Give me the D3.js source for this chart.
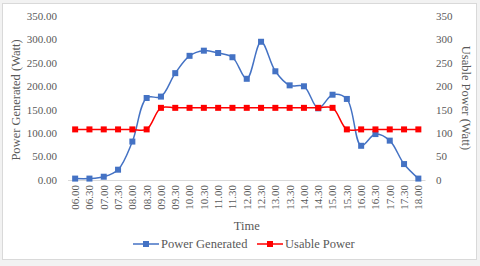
<!DOCTYPE html>
<html>
<head>
<meta charset="utf-8">
<script src="https://cdn.jsdelivr.net/npm/d3@7"></script>
<style>
  body { margin: 0; background: #fff; }
  text { font-family: "Liberation Serif", "Times New Roman", serif; fill: #595959; }
</style>
</head>
<body>
<script>
const width = 480;
const height = 266;

const times = ["06.00","06.30","07.00","07.30","08.00","08.30","09.00","09.30","10.00","10.30","11.00","11.30",
  "12.00","12.30","13.00","13.30","14.00","14.30","15.00","15.30","16.00","16.30","17.00","17.30","18.00"];
const powerGenerated = [3, 3, 7, 22, 82, 175, 178, 228, 265, 276, 271, 262,
  216, 295, 232, 202, 200, 153, 182, 173, 73, 98, 84, 34, 3];
const usablePower = [108, 108, 108, 108, 108, 108, 154, 154, 154, 154, 154, 154,
  154, 154, 154, 154, 154, 154, 154, 108, 108, 108, 108, 108, 108];
const leftTicks = [0, 50, 100, 150, 200, 250, 300, 350];
const rightTicks = [0, 50, 100, 150, 200, 250, 300, 350];

const svg = d3.select("body").append("svg")
  .attr("width", width)
  .attr("height", height);

// chart frame
svg.append("rect").attr("width", width).attr("height", height).attr("fill", "#f2f2f2");
svg.append("rect")
  .attr("x", 2.5).attr("y", 3.5)
  .attr("width", 474).attr("height", 256)
  .attr("fill", "#fff").attr("stroke", "#d9d9d9");

const plot = { left: 68, right: 425.5, top: 16, bottom: 180 };

const x = d3.scaleBand().domain(times).range([plot.left, plot.right]);
const y = d3.scaleLinear().domain([0, 350]).range([plot.bottom, plot.top]);
const y2 = d3.scaleLinear().domain([0, 350]).range([plot.bottom, plot.top]);
const cx = t => x(t) + x.bandwidth() / 2;

// left axis labels
svg.append("g").selectAll("text")
  .data(leftTicks)
  .join("text")
    .attr("x", 57)
    .attr("y", d => y(d))
    .attr("dy", "0.35em")
    .attr("text-anchor", "end")
    .attr("font-size", 11)
    .text(d => d.toFixed(2));

// right axis labels
svg.append("g").selectAll("text")
  .data(rightTicks)
  .join("text")
    .attr("x", 436)
    .attr("y", d => y2(d))
    .attr("dy", "0.35em")
    .attr("text-anchor", "start")
    .attr("font-size", 11)
    .text(d => d);

// x axis line
svg.append("line")
  .attr("x1", plot.left).attr("x2", plot.right)
  .attr("y1", y(0) + 0.5).attr("y2", y(0) + 0.5)
  .attr("stroke", "#d9d9d9");

// x tick labels (rotated)
svg.append("g").selectAll("text")
  .data(times)
  .join("text")
    .attr("transform", d => `translate(${cx(d)},185) rotate(-90)`)
    .attr("dy", "0.35em")
    .attr("text-anchor", "end")
    .attr("font-size", 11)
    .text(d => d);

// axis titles
svg.append("text")
  .attr("transform", `translate(20,${(plot.top + plot.bottom) / 2 + 2}) rotate(-90)`)
  .attr("text-anchor", "middle")
  .attr("font-size", 12.5)
  .text("Power Generated (Watt)");

svg.append("text")
  .attr("transform", `translate(462,${(plot.top + plot.bottom) / 2}) rotate(90)`)
  .attr("text-anchor", "middle")
  .attr("font-size", 12.5)
  .text("Usable Power (Watt)");

svg.append("text")
  .attr("x", (plot.left + plot.right) / 2)
  .attr("y", 230)
  .attr("text-anchor", "middle")
  .attr("font-size", 12.5)
  .text("Time");

const line = d3.line().curve(d3.curveCatmullRom.alpha(0.5));

const series = [
  { name: "Power Generated", values: powerGenerated, color: "#4472C4", scale: y },
  { name: "Usable Power", values: usablePower, color: "#FF0000", scale: y2 }
];

for (const s of series) {
  const pts = times.map((t, i) => [cx(t), s.scale(s.values[i])]);
  svg.append("path")
    .attr("d", line(pts))
    .attr("fill", "none")
    .attr("stroke", s.color)
    .attr("stroke-width", 1.5);
  svg.append("g").selectAll("rect")
    .data(pts)
    .join("rect")
      .attr("x", d => d[0] - 3)
      .attr("y", d => d[1] - 3)
      .attr("width", 6).attr("height", 6)
      .attr("fill", s.color);
}

// legend
const legendItems = [
  { name: series[0].name, color: series[0].color, x: 133 },
  { name: series[1].name, color: series[1].color, x: 257 }
];
const lg = svg.append("g").selectAll("g")
  .data(legendItems)
  .join("g")
    .attr("transform", d => `translate(${d.x},244)`);
lg.append("line")
  .attr("x1", 0).attr("x2", 26)
  .attr("stroke", d => d.color).attr("stroke-width", 1.5);
lg.append("rect")
  .attr("x", 10).attr("y", -3).attr("width", 6).attr("height", 6)
  .attr("fill", d => d.color);
lg.append("text")
  .attr("x", 28).attr("dy", "0.35em")
  .attr("font-size", 12.5)
  .text(d => d.name);
</script>
</body>
</html>
